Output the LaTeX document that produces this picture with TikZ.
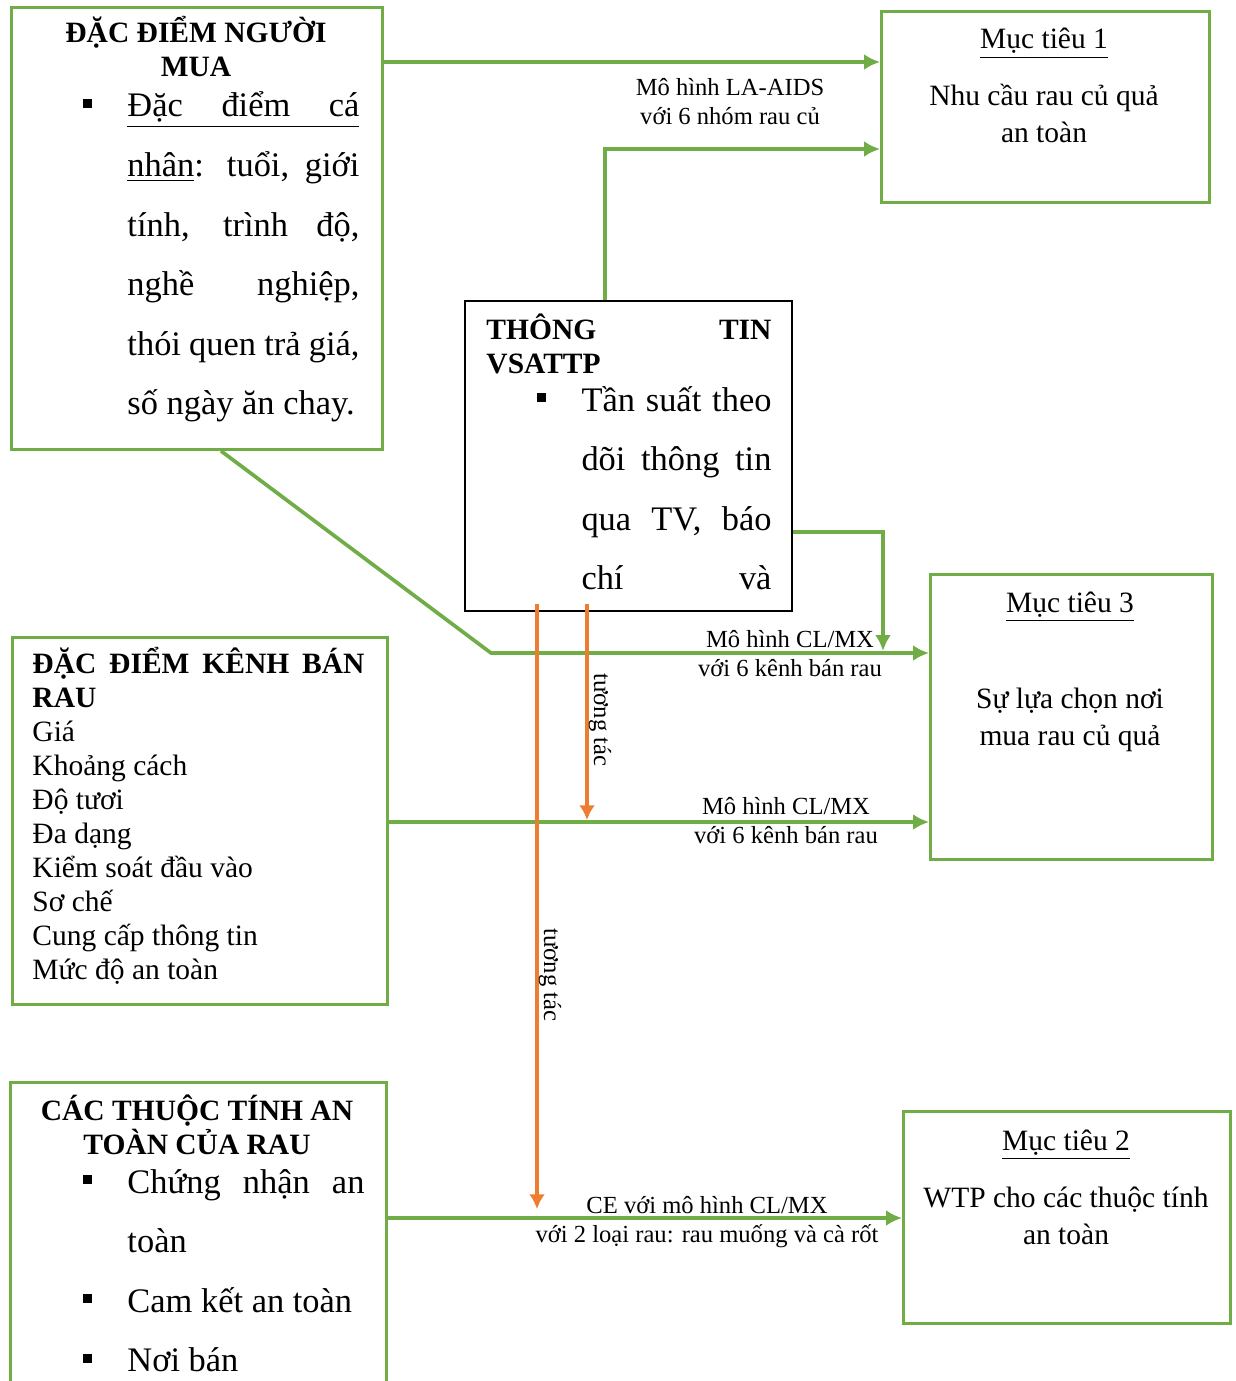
\documentclass[tikz,border=0pt]{standalone}
\usepackage{fontspec}
\setmainfont{Liberation Serif}
\usetikzlibrary{arrows.meta}
\usetikzlibrary{calc}
\definecolor{boxgreen}{HTML}{70AD47}
\definecolor{linkorange}{HTML}{ED7D31}
\newlength{\pxl}
\setlength{\pxl}{0.0143cm}
\newcommand{\jline}[2]{\makebox[#1\pxl][s]{#2}}
\newcommand{\sqbullet}{\leavevmode\llap{\rule[9\pxl]{9\pxl}{9\pxl}\hspace{35\pxl}}}
\newcommand{\titlefont}{\fontsize{12}{12}\selectfont\bfseries\setlength{\baselineskip}{34\pxl}}
\newcommand{\bodyfont}{\fontsize{12}{12}\selectfont\setlength{\baselineskip}{34\pxl}}
\newcommand{\listfont}{\fontsize{14}{14}\selectfont\setlength{\baselineskip}{59.6\pxl}}
\newcommand{\goalfont}{\fontsize{12}{12}\selectfont\setlength{\baselineskip}{37\pxl}}
\newcommand{\edgefont}{\fontsize{10}{10}\selectfont\setlength{\baselineskip}{29\pxl}}

\begin{document}
\begin{tikzpicture}[x=0.0143cm,y=-0.0143cm,
  greenbox/.style={draw=boxgreen,line width=1.2pt,anchor=north west,inner sep=0pt},
  infobox/.style={draw=black,line width=0.9pt,anchor=north west,inner sep=0pt},
  txt/.style={anchor=base west,inner sep=0pt},
  ctxt/.style={anchor=base,inner sep=0pt},
  flow/.style={boxgreen,line width=1.5pt,-{Latex[length=6.5pt,width=6.5pt]}},
  inter/.style={linkorange,line width=1.5pt,-{Latex[length=6pt,width=6.5pt]}}]
\useasboundingbox (0,0) rectangle (1235,1381);

\node[greenbox,minimum width=371\pxl,minimum height=442\pxl] (buyer) at (10,6) {};
\node[greenbox,minimum width=375\pxl,minimum height=367\pxl] (channel) at (11,636) {};
\node[greenbox,minimum width=376\pxl,minimum height=330\pxl] (attr) at (9,1081) {};
\node[infobox,minimum width=327\pxl,minimum height=310\pxl] (info) at (464,300) {};
\node[greenbox,minimum width=328\pxl,minimum height=191\pxl] (goal1) at (880,10) {};
\node[greenbox,minimum width=282\pxl,minimum height=285\pxl] (goal3) at (929,573) {};
\node[greenbox,minimum width=327\pxl,minimum height=212\pxl] (goal2) at (902,1110) {};

\node[ctxt] (buyertitle) at (196,43) {\parbox[t]{360\pxl}{\centering\titlefont ĐẶC ĐIỂM NGƯỜI\\MUA}};
\node[txt] (buyerlist) at (127,117) {\parbox[t]{232\pxl}{\listfont\sqbullet\underline{\jline{232}{Đặc điểm cá}}\\
\jline{232}{\underline{nhân}: tuổi, giới}\\
\jline{232}{tính, trình độ,}\\
\jline{232}{nghề nghiệp,}\\
\jline{232}{thói quen trả giá,}\\
số ngày ăn chay.}};

\node[txt] (infotitle) at (486,339) {\parbox[t]{285\pxl}{\titlefont\jline{285}{THÔNG TIN}\\VSATTP}};
\node[txt] (infolist) at (581,411) {\parbox[t]{190\pxl}{\listfont\sqbullet\jline{190}{Tần suất theo}\\
\jline{190}{dõi thông tin}\\
\jline{190}{qua TV, báo}\\
\jline{190}{chí và}}};

\node[txt] (channeltitle) at (32,673) {\parbox[t]{332\pxl}{\titlefont\jline{332}{ĐẶC ĐIỂM KÊNH BÁN}\\RAU}};
\node[txt] (channellist) at (32,741) {\parbox[t]{330\pxl}{\bodyfont Giá\\Khoảng cách\\Độ tươi\\Đa dạng\\Kiểm soát đầu vào\\Sơ chế\\Cung cấp thông tin\\Mức độ an toàn}};

\node[ctxt] (attrtitle) at (197,1120) {\parbox[t]{360\pxl}{\centering\titlefont CÁC THUỘC TÍNH AN\\TOÀN CỦA RAU}};
\node[txt] (attrlist) at (127,1193) {\parbox[t]{237\pxl}{\listfont\sqbullet\jline{237}{Chứng nhận an}\\
toàn\\
\sqbullet Cam kết an toàn\\
\sqbullet Nơi bán}};

\node[ctxt] (goal1title) at (1044,49) {\goalfont\underline{Mục tiêu 1}};
\node[ctxt] (goal1text) at (1044,106) {\parbox[t]{320\pxl}{\centering\goalfont Nhu cầu rau củ quả\\an toàn}};
\node[ctxt] (goal3title) at (1070,612) {\goalfont\underline{Mục tiêu 3}};
\node[ctxt] (goal3text) at (1070,708) {\parbox[t]{280\pxl}{\centering\goalfont Sự lựa chọn nơi\\mua rau củ quả}};
\node[ctxt] (goal2title) at (1066,1150) {\goalfont\underline{Mục tiêu 2}};
\node[ctxt] (goal2text) at (1066,1207) {\parbox[t]{320\pxl}{\centering\goalfont WTP cho các thuộc tính\\an toàn}};

\coordinate (bend) at (491,653);
\coordinate (drop) at (883,651);
\coordinate (hitA) at (587,820);
\coordinate (hitB) at (537,1209);

\draw[flow] (buyer.east |- 0,62) -- (goal1.west |- 0,62);
\draw[flow] (info.north -| 605,0) |- (goal1.west |- 0,149);
\draw[flow] (buyer.south -| 221,0) -- (bend) -- (goal3.west |- bend);
\draw[flow] (info.east |- 0,532) -| (drop);
\draw[flow] (channel.east |- 0,822) -- (goal3.west |- 0,822);
\draw[flow] (attr.east |- 0,1218) -- (goal2.west |- 0,1218);
\draw[inter] ($(info.south -| hitA)+(0,-8)$) -- (hitA);
\draw[inter] ($(info.south -| hitB)+(0,-8)$) -- (hitB);

\node[ctxt] (laaids) at (730,96) {\parbox[t]{250\pxl}{\centering\edgefont Mô hình LA-AIDS\\với 6 nhóm rau củ}};
\node[ctxt] (clmxA) at (790,647) {\parbox[t]{250\pxl}{\centering\edgefont Mô hình CL/MX\\với 6 kênh bán rau}};
\node[ctxt] (clmxB) at (786,814) {\parbox[t]{250\pxl}{\centering\edgefont Mô hình CL/MX\\với 6 kênh bán rau}};
\node[ctxt] (cemx) at (707,1213) {\parbox[t]{420\pxl}{\centering\edgefont CE với mô hình CL/MX\\với 2 loại rau: rau muống và cà rốt}};
\node[rotate=-90,inner sep=0pt] (ttA) at (600,720) {\fontsize{10}{12}\selectfont tương tác};
\node[rotate=-90,inner sep=0pt] (ttB) at (550,975) {\fontsize{10}{12}\selectfont tương tác};
\end{tikzpicture}
\end{document}
